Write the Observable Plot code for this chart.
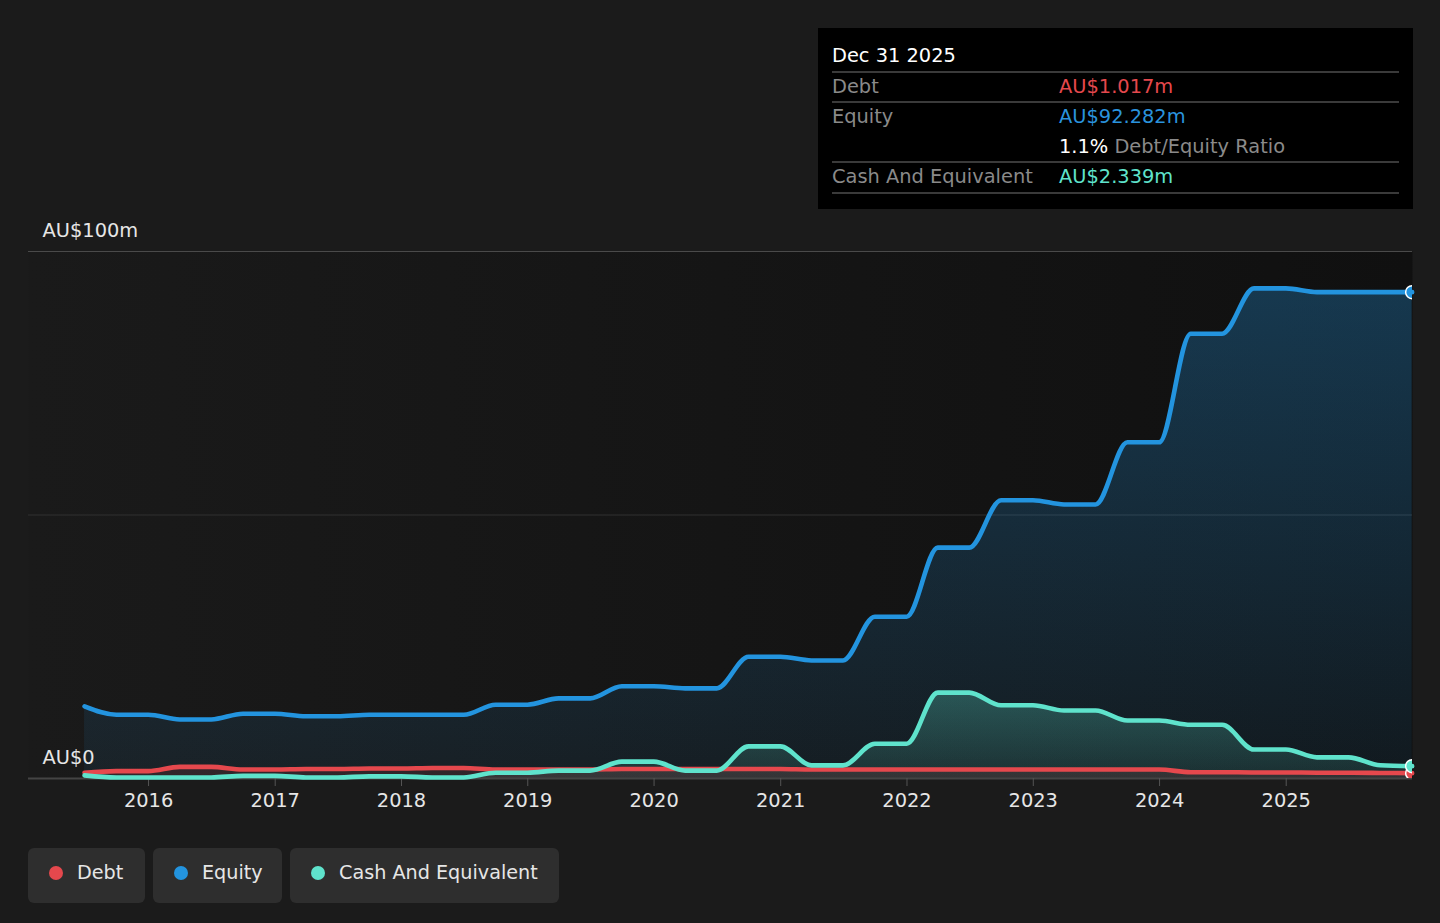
<!DOCTYPE html>
<html>
<head>
<meta charset="utf-8">
<script src="https://cdn.jsdelivr.net/npm/d3@7"></script>
<script src="https://cdn.jsdelivr.net/npm/@observablehq/plot@0.6"></script>
<style>
  html, body { margin: 0; padding: 0; background: #1b1b1b; overflow: hidden; }
  body { font-family: "DejaVu Sans", sans-serif; }
  #wrap { position: relative; width: 1440px; height: 923px; background: #1b1b1b; }
  #chart { position: absolute; left: 0; top: 0; }
  #tip { position: absolute; left: 818px; top: 28px; width: 595px; height: 181px; background: #000; }
  #tip .t { position: absolute; font-size: 19.4px; line-height: 24px; white-space: nowrap; }
  #tip .sep { position: absolute; left: 14px; width: 567px; height: 2px; background: #3a3a3a; }
  #legend { position: absolute; left: 28px; top: 848px; display: flex; gap: 8px; }
  .item { height: 55px; box-sizing: border-box; padding: 0 0 6px 21px; background: #2e2e2e; border-radius: 6px; display: flex; align-items: center; color: #e6e6e6; font-size: 19.2px; white-space: nowrap; }
  .dot { width: 14px; height: 14px; border-radius: 50%; margin-right: 14px; flex: none; }
</style>
</head>
<body>
<div id="wrap">
  <div id="chart"></div>
  <div id="tip"></div>
  <div id="legend"></div>
</div>
<script>
// ---- data (quarter ends, AU$ millions) ----
const dates = [
  "2015-06-30","2015-09-30","2015-12-31","2016-03-31","2016-06-30","2016-09-30","2016-12-31",
  "2017-03-31","2017-06-30","2017-09-30","2017-12-31","2018-03-31","2018-06-30","2018-09-30",
  "2018-12-31","2019-03-31","2019-06-30","2019-09-30","2019-12-31","2020-03-31","2020-06-30",
  "2020-09-30","2020-12-31","2021-03-31","2021-06-30","2021-09-30","2021-12-31","2022-03-31",
  "2022-06-30","2022-09-30","2022-12-31","2023-03-31","2023-06-30","2023-09-30","2023-12-31",
  "2024-03-31","2024-06-30","2024-09-30","2024-12-31","2025-03-31","2025-06-30","2025-09-30",
  "2025-12-31"
];
const debt = [
  1.1, 1.4, 1.4, 2.2, 2.2, 1.7, 1.7,
  1.8, 1.8, 1.9, 1.9, 2.0, 2.0, 1.7,
  1.7, 1.7, 1.7, 1.8, 1.8, 1.8, 1.8,
  1.8, 1.8, 1.7, 1.7, 1.7, 1.7, 1.7,
  1.7, 1.7, 1.7, 1.7, 1.7, 1.7, 1.7,
  1.2, 1.2, 1.15, 1.15, 1.1, 1.1, 1.05,
  1.017
];
const equity = [
  13.7, 12.1, 12.1, 11.2, 11.2, 12.3, 12.3,
  11.8, 11.8, 12.1, 12.1, 12.1, 12.1, 14.0,
  14.0, 15.2, 15.2, 17.5, 17.5, 17.1, 17.1,
  23.1, 23.1, 22.4, 22.4, 30.7, 30.7, 43.8,
  43.8, 52.8, 52.8, 52.0, 52.0, 63.8, 63.8,
  84.4, 84.4, 93.0, 93.0, 92.3, 92.3, 92.3,
  92.282
];
const cash = [
  0.6, 0.2, 0.2, 0.2, 0.2, 0.5, 0.5,
  0.2, 0.2, 0.4, 0.4, 0.2, 0.2, 1.1,
  1.1, 1.5, 1.5, 3.2, 3.2, 1.5, 1.5,
  6.1, 6.1, 2.5, 2.5, 6.6, 6.6, 16.3,
  16.3, 13.9, 13.9, 12.9, 12.9, 11.0, 11.0,
  10.2, 10.2, 5.5, 5.5, 4.0, 4.0, 2.5,
  2.339
];
const xTickYears = [2016, 2017, 2018, 2019, 2020, 2021, 2022, 2023, 2024, 2025];
const yTicks = [0, 100];
const yTickLabels = ["AU$0", "AU$100m"];
const seriesNames = ["Debt", "Equity", "Cash And Equivalent"];
const seriesColors = ["#e5484d", "#2394df", "#5fe3cc"];
const legendWidths = [117, 129, 269];
const xDomain = ["2015-01-19", "2026-01-01"];

// ---- build ----
const parse = d3.utcParse("%Y-%m-%d");
const rows = dates.map((d, i) => ({date: parse(d), debt: debt[i], equity: equity[i], cash: cash[i]}));
const last = rows[rows.length - 1];

const W = 1440, H = 830, mL = 28, mR = 28, mT = 251, mB = 52;
const FS = 19.4;

function defs() {
  const g = d3.create("svg:defs");
  const bg = g.append("linearGradient").attr("id", "bgGrad")
    .attr("gradientUnits", "userSpaceOnUse").attr("x1", mL).attr("x2", W - mR).attr("y1", 0).attr("y2", 0);
  bg.append("stop").attr("offset", 0).attr("stop-color", "#1a1a1a");
  bg.append("stop").attr("offset", 1).attr("stop-color", "#101010");
  const eq = g.append("linearGradient").attr("id", "eqGrad")
    .attr("gradientUnits", "userSpaceOnUse").attr("x1", 0).attr("x2", 0).attr("y1", mT).attr("y2", H - mB);
  eq.append("stop").attr("offset", 0).attr("stop-color", "#2394df").attr("stop-opacity", 0.32);
  eq.append("stop").attr("offset", 1).attr("stop-color", "#2394df").attr("stop-opacity", 0.07);
  const ca = g.append("linearGradient").attr("id", "cashGrad")
    .attr("gradientUnits", "userSpaceOnUse").attr("x1", 0).attr("x2", 0).attr("y1", 680).attr("y2", H - mB);
  ca.append("stop").attr("offset", 0).attr("stop-color", "#5fe3cc").attr("stop-opacity", 0.3);
  ca.append("stop").attr("offset", 1).attr("stop-color", "#5fe3cc").attr("stop-opacity", 0.1);
  return g.node();
}

const plot = Plot.plot({
  width: W, height: H,
  marginLeft: mL, marginRight: mR, marginTop: mT, marginBottom: mB,
  style: {background: "transparent", color: "#e6e6e6", fontFamily: "DejaVu Sans", fontSize: FS + "px"},
  x: {type: "utc", domain: xDomain.map(parse), axis: null},
  y: {domain: [0, 100], axis: null},
  marks: [
    defs,
    Plot.frame({fill: "url(#bgGrad)", stroke: "none"}),
    Plot.ruleY([50], {stroke: "#303030", strokeWidth: 1}),
    Plot.ruleY([100], {stroke: "#4a4a4a", strokeWidth: 1.2}),
    Plot.areaY(rows, {x: "date", y: "equity", fill: "url(#eqGrad)", curve: "monotone-x"}),
    Plot.areaY(rows, {x: "date", y: "cash", fill: "url(#cashGrad)", curve: "monotone-x"}),
    Plot.areaY(rows, {x: "date", y: "debt", fill: "#e5484d", fillOpacity: 0.12, curve: "monotone-x"}),
    Plot.ruleY([0], {stroke: "#444", strokeWidth: 2}),
    Plot.axisX({
      ticks: xTickYears.map(y => new Date(Date.UTC(y, 0, 1))),
      tickFormat: d3.utcFormat("%Y"),
      tickSize: 8, tickPadding: 7,
      stroke: "#555", fill: "#e6e6e6", fontSize: FS, label: null
    }),
    Plot.lineY(rows, {x: "date", y: "equity", stroke: seriesColors[1], strokeWidth: 4.6, curve: "monotone-x"}),
    Plot.lineY(rows, {x: "date", y: "debt", stroke: seriesColors[0], strokeWidth: 4.6, curve: "monotone-x"}),
    Plot.lineY(rows, {x: "date", y: "cash", stroke: seriesColors[2], strokeWidth: 4.6, curve: "monotone-x"}),
    Plot.text(yTicks, {
      y: d => d, text: (d, i) => yTickLabels[i],
      frameAnchor: "left", dx: 14, dy: -21, textAnchor: "start",
      fill: "#e6e6e6", fontSize: FS
    }),
    Plot.dot([last], {x: "date", y: "equity", r: 6.5, fill: seriesColors[1], stroke: "white", strokeWidth: 1.5, clip: true}),
    Plot.dot([last], {x: "date", y: "debt", r: 6.5, fill: seriesColors[0], stroke: "white", strokeWidth: 1.5, clip: true}),
    Plot.dot([last], {x: "date", y: "cash", r: 6.5, fill: seriesColors[2], stroke: "white", strokeWidth: 1.5, clip: true})
  ]
});
document.getElementById("chart").appendChild(plot);

// ---- tooltip box ----
const tip = document.getElementById("tip");
const fmt = v => "AU$" + v.toFixed(3) + "m";
function addText(txt, left, centerY, color) {
  const el = document.createElement("div");
  el.className = "t";
  el.style.left = left + "px";
  el.style.top = (centerY - 11) + "px";
  el.style.color = color;
  el.textContent = txt;
  tip.appendChild(el);
  return el;
}
function addSep(y) {
  const el = document.createElement("div");
  el.className = "sep";
  el.style.top = (y - 1) + "px";
  tip.appendChild(el);
}
const fmtDate = d3.utcFormat("%b %-d %Y");
addText(fmtDate(last.date), 14, 27, "#ffffff");
addSep(44);
addText(seriesNames[0], 14, 58, "#8a8a8a");
addText(fmt(last.debt), 241, 58, seriesColors[0]);
addSep(74);
addText(seriesNames[1], 14, 88, "#8a8a8a");
addText(fmt(last.equity), 241, 88, "#2a93dd");
const r = addText("", 241, 118, "#ffffff");
r.innerHTML = (last.debt / last.equity * 100).toFixed(1) + "% <span style='color:#8a8a8a'>Debt/Equity Ratio</span>";
addSep(134);
addText(seriesNames[2], 14, 148, "#8a8a8a");
addText(fmt(last.cash), 241, 148, seriesColors[2]);
addSep(165);

// ---- legend ----
const legend = document.getElementById("legend");
seriesNames.forEach((n, i) => {
  const it = document.createElement("div");
  it.className = "item";
  it.style.width = legendWidths[i] + "px";
  const dot = document.createElement("span");
  dot.className = "dot";
  dot.style.background = seriesColors[i];
  it.appendChild(dot);
  const s = document.createElement("span");
  s.textContent = n;
  it.appendChild(s);
  legend.appendChild(it);
});
</script>
</body>
</html>
